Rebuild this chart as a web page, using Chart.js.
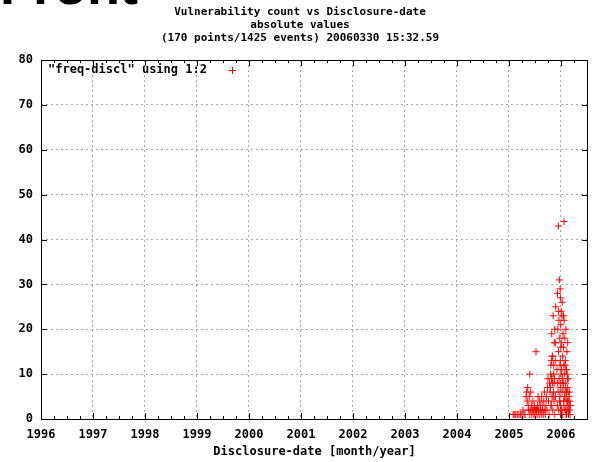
<!DOCTYPE html>
<html>
<head>
<meta charset="utf-8">
<script src="https://cdn.jsdelivr.net/npm/chart.js@4/dist/chart.umd.min.js"></script>
<style>
  html, body { margin: 0; padding: 0; background: #fff; }
  #wrap { width: 593px; height: 462px; position: relative; }
</style>
</head>
<body>
<div id="wrap"><canvas id="c"></canvas></div>
<script>
// Disclosure dates as decimal years, one entry per distinct date
const disclosureYear = [
  2005.080, 2005.100, 2005.130, 2005.160, 2005.190, 2005.220, 2005.250, 2005.270, 2005.290, 2005.310,
  2005.330, 2005.340, 2005.350, 2005.360, 2005.370, 2005.380, 2005.390, 2005.400, 2005.402, 2005.410,
  2005.420, 2005.430, 2005.440, 2005.450, 2005.460, 2005.470, 2005.480, 2005.490, 2005.500, 2005.510,
  2005.520, 2005.530, 2005.540, 2005.550, 2005.560, 2005.570, 2005.580, 2005.590, 2005.600, 2005.610,
  2005.620, 2005.630, 2005.640, 2005.650, 2005.660, 2005.670, 2005.680, 2005.690, 2005.700,
  2005.710, 2005.720, 2005.730, 2005.740, 2005.750, 2005.760, 2005.770, 2005.780, 2005.790, 2005.800,
  2005.810, 2005.820, 2005.830, 2005.840, 2005.850, 2005.860, 2005.870, 2005.880, 2005.890,
  2005.800, 2005.806, 2005.811, 2005.817, 2005.822, 2005.828, 2005.833, 2005.839, 2005.844, 2005.850,
  2005.856, 2005.861, 2005.867, 2005.872, 2005.878, 2005.883, 2005.889, 2005.894, 2005.900,
  2005.925, 2005.929, 2005.933, 2005.937, 2005.941, 2005.945, 2005.949, 2005.953, 2005.957, 2005.961,
  2005.965, 2005.969, 2005.973, 2005.977, 2005.981, 2005.985, 2005.989, 2005.993, 2005.997, 2006.001,
  2005.980, 2005.984, 2005.988, 2005.992, 2005.996, 2006.000, 2006.004, 2006.008, 2006.012, 2006.016,
  2006.020, 2006.024, 2006.028, 2006.032, 2006.036, 2006.040, 2006.044, 2006.048, 2006.052, 2006.056,
  2006.060, 2006.045, 2006.050, 2006.055, 2006.060, 2006.065, 2006.070, 2006.075, 2006.080, 2006.085,
  2006.090, 2006.095, 2006.100, 2006.105, 2006.110, 2006.115, 2006.120, 2006.125, 2006.130, 2006.135,
  2006.080, 2006.085, 2006.090, 2006.095, 2006.100, 2006.105, 2006.110, 2006.115, 2006.120, 2006.125,
  2006.130, 2006.135, 2006.140, 2006.145, 2006.150, 2006.155, 2006.160, 2006.165, 2006.170, 2006.175,
  2006.180, 2005.955, 2006.020
];

// Vulnerability count disclosed on each date
const vulnCount = [
  1, 1, 1, 1, 1, 1, 1, 2, 1, 1,
  5, 6, 4, 7, 3, 2, 5, 10, 1, 2,
  6, 3, 1, 2, 4, 2, 1, 3, 1, 2,
  15, 2, 1, 3, 5, 2, 1, 4, 3, 2,
  1, 5, 3, 2, 1, 4, 6, 2, 1,
  3, 5, 2, 7, 9, 4, 1, 8, 6, 10,
  3, 13, 9, 14, 5, 12, 8, 20, 17,
  7, 12, 3, 9, 19, 5, 14, 8, 2, 23,
  6, 10, 4, 17, 9, 1, 13, 5, 25,
  11, 3, 28, 8, 20, 6, 43, 15, 2, 22,
  9, 31, 4, 18, 12, 7, 27, 1, 16, 10,
  5, 29, 13, 3, 21, 8, 24, 2, 11, 17,
  6, 26, 9, 14, 1, 19, 7, 23, 4, 12,
  44, 8, 16, 3, 22, 10, 5, 18, 2, 13,
  7, 20, 1, 11, 6, 15, 4, 9, 17, 3,
  12, 2, 8, 5, 11, 1, 6, 3, 10, 4,
  7, 2, 9, 1, 5, 3, 6, 2, 4, 1,
  3, 24, 23
];

const yearTicks = [1996, 1997, 1998, 1999, 2000, 2001, 2002, 2003, 2004, 2005, 2006];
const countTicks = [0, 10, 20, 30, 40, 50, 60, 70, 80];

const titleLines = [
  'Vulnerability count vs Disclosure-date',
  'absolute values',
  '(170 points/1425 events) 20060330 15:32.59'
];
const xAxisTitle = 'Disclosure-date [month/year]';
const seriesLabel = '"freq-discl" using 1:2';

const points = disclosureYear.map((x, i) => ({ x: x, y: vulnCount[i] }));

const MONO = '"DejaVu Sans Mono", "Liberation Mono", monospace';
const RED = '#ff0000';

// Border, inward ticks, headings and the key drawn over the plot
const framePlugin = {
  id: 'frame',
  afterDraw(chart) {
    const ctx = chart.ctx;
    const a = chart.chartArea;
    const xs = chart.scales.x, ys = chart.scales.y;
    ctx.save();
    ctx.strokeStyle = '#000';
    ctx.lineWidth = 1;
    ctx.beginPath();
    // major x ticks, bottom and top
    yearTicks.forEach(v => {
      const px = Math.round(xs.getPixelForValue(v)) + 0.5;
      ctx.moveTo(px, a.bottom); ctx.lineTo(px, a.bottom - 6);
      ctx.moveTo(px, a.top); ctx.lineTo(px, a.top + 6);
      // quarter-year minor ticks
      [0.25, 0.5, 0.75].forEach(q => {
        const mv = v + q;
        if (mv < xs.max) {
          const mx = Math.round(xs.getPixelForValue(mv)) + 0.5;
          ctx.moveTo(mx, a.bottom); ctx.lineTo(mx, a.bottom - 3);
          ctx.moveTo(mx, a.top); ctx.lineTo(mx, a.top + 3);
        }
      });
    });
    // major y ticks, left and right
    countTicks.forEach(v => {
      const py = Math.round(ys.getPixelForValue(v)) + 0.5;
      ctx.moveTo(a.left, py); ctx.lineTo(a.left + 6, py);
      ctx.moveTo(a.right, py); ctx.lineTo(a.right - 6, py);
    });
    ctx.stroke();
    // plot border
    ctx.strokeRect(Math.round(a.left) + 0.5, Math.round(a.top) + 0.5,
                   Math.round(a.right - a.left) - 1, Math.round(a.bottom - a.top));

    // headings
    ctx.fillStyle = '#000';
    ctx.textAlign = 'center';
    ctx.textBaseline = 'middle';
    ctx.font = 'bold 11px ' + MONO;
    titleLines.forEach((t, i) => ctx.fillText(t, 300, 12 + i * 13));
    ctx.font = 'bold 12px ' + MONO;
    ctx.fillText(xAxisTitle, (a.left + a.right) / 2, 452);

    // key
    ctx.textAlign = 'left';
    ctx.fillText(seriesLabel, 48, 70);
    ctx.strokeStyle = RED;
    ctx.beginPath();
    ctx.moveTo(229, 70.5); ctx.lineTo(236, 70.5);
    ctx.moveTo(232.5, 67); ctx.lineTo(232.5, 74);
    ctx.stroke();

    // page heading partly cut off at the top edge
    ctx.fillStyle = '#000';
    ctx.font = 'bold 54px "Liberation Sans", Arial, sans-serif';
    ctx.textBaseline = 'alphabetic';
    ctx.fillText('Front', 0, 4);
    ctx.restore();
  }
};

new Chart(document.getElementById('c'), {
  type: 'scatter',
  data: {
    datasets: [{
      label: seriesLabel,
      data: points,
      pointStyle: 'cross',
      pointRadius: 3.5,
      pointHoverRadius: 3.5,
      borderColor: RED,
      backgroundColor: RED,
      borderWidth: 1
    }]
  },
  options: {
    responsive: true,
    maintainAspectRatio: false,
    animation: false,
    devicePixelRatio: 1,
    layout: { padding: { top: 60, right: 5, left: 0, bottom: 0 } },
    plugins: { legend: { display: false }, tooltip: { enabled: false }, title: { display: false } },
    scales: {
      x: {
        type: 'linear',
        min: 1996,
        max: 2006.52,
        afterFit(s) { s.height = 43; },
        afterBuildTicks(s) { s.ticks = yearTicks.map(v => ({ value: v })); },
        ticks: {
          color: '#000',
          padding: 9,
          maxRotation: 0,
          autoSkip: false,
          font: { family: MONO, size: 12, weight: 'bold' },
          callback: v => String(v)
        },
        grid: { color: '#a8a8a8', drawTicks: false, lineWidth: 1 },
        border: { display: false, dash: [2, 3] }
      },
      y: {
        type: 'linear',
        min: 0,
        max: 80,
        afterFit(s) { s.width = 41; },
        afterBuildTicks(s) { s.ticks = countTicks.map(v => ({ value: v })); },
        ticks: {
          color: '#000',
          padding: 8,
          font: { family: MONO, size: 12, weight: 'bold' }
        },
        grid: { color: '#a8a8a8', drawTicks: false, lineWidth: 1 },
        border: { display: false, dash: [2, 3] }
      }
    }
  },
  plugins: [framePlugin]
});
</script>
</body>
</html>
